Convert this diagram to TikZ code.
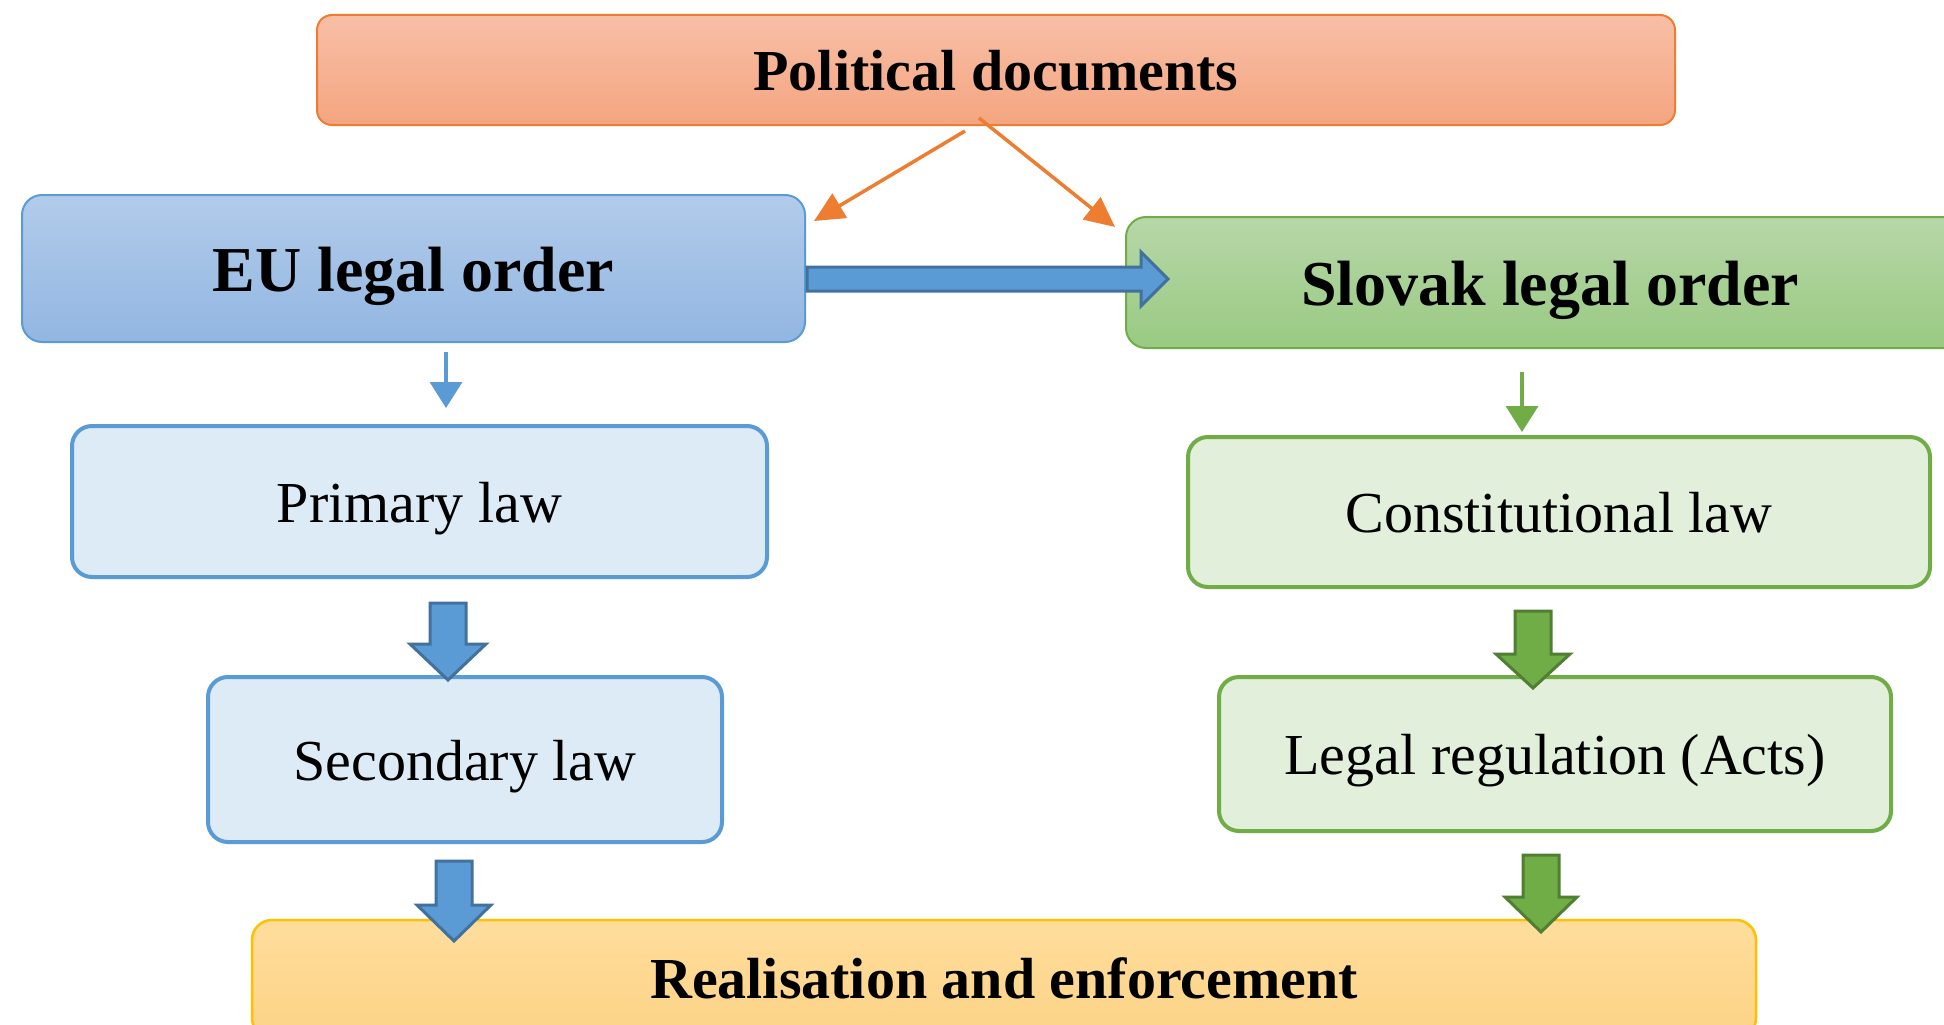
\documentclass[tikz,border=0pt]{standalone}
\usepackage{fontspec}
\setmainfont{Liberation Serif}
\usetikzlibrary{arrows.meta}
\definecolor{orangeB}{HTML}{ED7D31}
\definecolor{polT}{HTML}{F8BFA6}
\definecolor{polB}{HTML}{F4A580}
\definecolor{blueB}{HTML}{5B9BD5}
\definecolor{blueD}{HTML}{41719C}
\definecolor{euT}{HTML}{B2CCEA}
\definecolor{euB}{HTML}{92B6E2}
\definecolor{greenB}{HTML}{70AD47}
\definecolor{greenD}{HTML}{507E32}
\definecolor{skT}{HTML}{B7D7A8}
\definecolor{skB}{HTML}{99CA82}
\definecolor{lblue}{HTML}{DDEBF7}
\definecolor{lgreen}{HTML}{E2EFDA}
\definecolor{yelB}{HTML}{FFC000}
\definecolor{reT}{HTML}{FEDD9C}
\definecolor{reB}{HTML}{FDD386}
\newcommand\blockdown[7]{%
  \draw[#1] (#2-#6,#3) -- (#2+#6,#3) -- (#2+#6,#4) -- (#2+#7,#4) -- (#2,#5)
    -- (#2-#7,#4) -- (#2-#6,#4) -- cycle;}
\begin{document}
\begin{tikzpicture}[x=1pt,y=-1pt,
  box/.style={draw, inner sep=0pt, align=center, rounded corners=20pt,
    font=\fontsize{58}{64}\selectfont, text height=41pt, text depth=0pt},
  bigbox/.style={box, line width=2pt, font=\fontsize{64}{70}\selectfont\bfseries,
    text height=45pt},
  subblue/.style={box, draw=blueB, fill=lblue, line width=4pt},
  subgreen/.style={box, draw=greenB, fill=lgreen, line width=4pt},
  blockblue/.style={fill=blueB, draw=blueD, line width=3pt, line join=miter},
  blockgreen/.style={fill=greenB, draw=greenD, line width=3pt, line join=miter},
  orangearr/.style={draw=orangeB, line width=3.5pt,
    -{Triangle[length=30pt,width=28pt]}},
  thinblue/.style={draw=blueB, line width=3.5pt,
    -{Triangle[length=26pt,width=32pt]}},
  thingreen/.style={draw=greenB, line width=3.5pt,
    -{Triangle[length=26pt,width=32pt]}}]
\useasboundingbox (0,0) rectangle (1944,1025);
\clip (0,0) rectangle (1944,1025);
\fill[white] (0,0) rectangle (1944,1025);

\node[box, draw=orangeB, line width=2pt, top color=polT, bottom color=polB,
  rounded corners=15pt, minimum width=1358pt, minimum height=110pt,
  font=\fontsize{58}{64}\selectfont\bfseries, text height=42pt] (pol) at (996,70) {Political documents};
\node[bigbox, draw=blueB, top color=euT, bottom color=euB,
  minimum width=783pt, minimum height=147pt] (eu) at (413.5,268.5) {EU legal order};
\node[bigbox, draw=greenB, top color=skT, bottom color=skB,
  minimum width=848pt, minimum height=131pt] (sk) at (1550,282.5) {Slovak legal order};
\node[subblue, minimum width=695pt, minimum height=151pt] (prim) at (419.5,501.5) {Primary law};
\node[subblue, minimum width=514pt, minimum height=165pt] (sec) at (465,759.5) {Secondary law};
\node[subgreen, minimum width=742pt, minimum height=150pt] (const) at (1559,512) {Constitutional law};
\node[subgreen, minimum width=672pt, minimum height=154pt] (acts) at (1555,754) {Legal regulation (Acts)};
\node[box, draw=yelB, line width=2.5pt, top color=reT, bottom color=reB,
  minimum width=1504pt, minimum height=118pt, text height=38pt,
  font=\fontsize{58}{64}\selectfont\bfseries] (real) at (1004,979) {Realisation and enforcement};

% orange arrows
\coordinate (o1) at (965,131);
\coordinate (o1e) at (814,221);
\coordinate (o2) at (979,118);
\coordinate (o2e) at (1115,227);
\draw[orangearr] (o1) -- (o1e);
\draw[orangearr] (o2) -- (o2e);

% thin arrows
\coordinate (b1) at (446,352);
\coordinate (b1e) at (446,408);
\draw[thinblue] (b1) -- (b1e);
\coordinate (g1) at (1522,372);
\coordinate (g1e) at (1522,432);
\draw[thingreen] (g1) -- (g1e);

% horizontal block arrow
\draw[blockblue] (807,267) -- (1141,267) -- (1141,252) -- (1168,279)
  -- (1141,306) -- (1141,291) -- (807,291) -- cycle;

% vertical block arrows
\blockdown{blockblue}{448}{603}{644}{680}{18}{38}
\blockdown{blockblue}{454}{861}{905}{941}{18}{37}
\blockdown{blockgreen}{1533}{611}{654}{688}{18}{37}
\blockdown{blockgreen}{1541}{855}{897}{932}{18}{36}
\end{tikzpicture}
\end{document}
